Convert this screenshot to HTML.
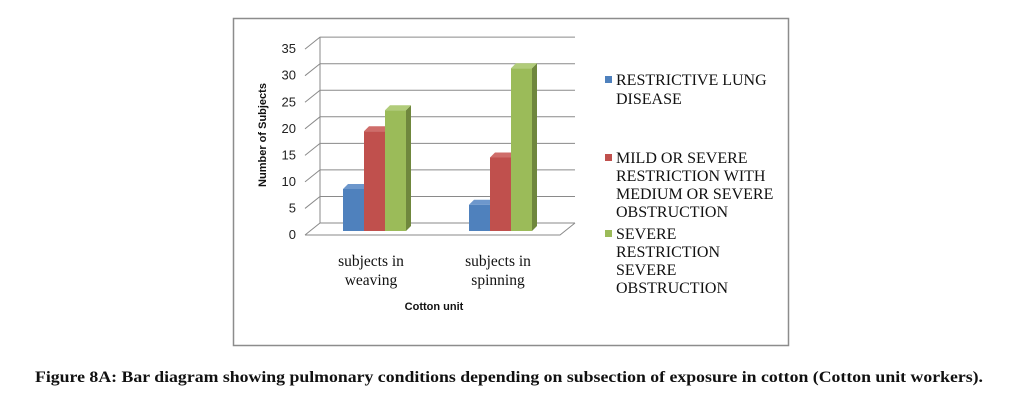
<!DOCTYPE html>
<html><head><meta charset="utf-8"><style>
body{margin:0;background:#fff;width:1011px;height:410px;overflow:hidden}
svg{display:block}
</style></head><body>
<svg width="1011" height="410" viewBox="0 0 1011 410">
<rect x="233.5" y="18.5" width="555" height="327" fill="#fff" stroke="#8c8c8c" stroke-width="1.5"/>
<g id="grid"></g>
<g id="bars"></g>
<g id="ticks" font-family="Liberation Sans, sans-serif" font-size="13" fill="#222" text-anchor="end"></g>
<text transform="translate(266,135) rotate(-90)" text-anchor="middle" font-family="Liberation Sans, sans-serif" font-weight="bold" font-size="11" fill="#111">Number of Subjects</text>
<g font-family="Liberation Serif, serif" font-size="15.5" fill="#111" text-anchor="middle">
<text x="371" y="266">subjects in</text>
<text x="371" y="285">weaving</text>
<text x="498" y="266">subjects in</text>
<text x="498" y="285">spinning</text>
</g>
<text x="434" y="310" text-anchor="middle" font-family="Liberation Sans, sans-serif" font-weight="bold" font-size="11" fill="#111">Cotton unit</text>
<g font-family="Liberation Serif, serif" font-size="16" fill="#111">
<g><rect x="605" y="76" width="7" height="7" fill="#4f81bd"/><text x="616" y="85">RESTRICTIVE LUNG</text><text x="616" y="104">DISEASE</text></g>
<g><rect x="605" y="154" width="7" height="7" fill="#c0504d"/><text x="616" y="163">MILD OR SEVERE</text><text x="616" y="181">RESTRICTION WITH</text><text x="616" y="199">MEDIUM OR SEVERE</text><text x="616" y="217">OBSTRUCTION</text></g>
<g><rect x="605" y="230" width="7" height="7" fill="#9bbb59"/><text x="616" y="239">SEVERE</text><text x="616" y="257">RESTRICTION</text><text x="616" y="275">SEVERE</text><text x="616" y="293">OBSTRUCTION</text></g>
</g>
<text x="35" y="382" textLength="948" lengthAdjust="spacingAndGlyphs" font-family="Liberation Serif, serif" font-weight="bold" font-size="16" fill="#111">Figure 8A: Bar diagram showing pulmonary conditions depending on subsection of exposure in cotton (Cotton unit workers).</text>
</svg>
<script>
const categories=["subjects in weaving","subjects in spinning"];
const restrictive=[8,5];
const mildSevere=[19,14];
const severe=[23,31];
const ticks=[0,5,10,15,20,25,30,35];
const NS="http://www.w3.org/2000/svg";
function mk(tag,attrs,parent){const e=document.createElementNS(NS,tag);for(const k in attrs)e.setAttribute(k,attrs[k]);parent.appendChild(e);return e;}
const backY=v=>223-v*5.31;
const barY=v=>231-v*5.25;
const grid=document.getElementById('grid'),tk=document.getElementById('ticks'),bars=document.getElementById('bars');
ticks.forEach(t=>{
  const y=backY(t);
  const l=mk('polyline',{points:`${305},${y+12} ${320},${y} ${575},${y}`,fill:'none',stroke:'#8a8a8a','stroke-width':1},grid);
  
  
  const tx=mk('text',{x:296,y:y+16},tk);tx.textContent=t;
  
  
});
const fl=mk('polyline',{points:`305,235 560,235 575,223`,fill:'none',stroke:'#8a8a8a','stroke-width':1},grid);


mk('line',{x1:320,y1:backY(35),x2:320,y2:backY(0),stroke:'#8a8a8a'},grid);
const series=[[restrictive,'#4f81bd','#3a6597','#6d97cc','restrictive'],[mildSevere,'#c0504d','#943c3a','#cf6d6a','mild'],[severe,'#9bbb59','#6f873d','#b1cc7a','severe']];
const groupX=[343,469],bw=21,d=5;
categories.forEach((c,i)=>{
  series.forEach((s,j)=>{
    const v=s[0][i],x=groupX[i]+j*bw,y=barY(v),b=231;
    const g=mk('g',{},bars);
    
    
    mk('polygon',{points:`${x+bw},${y} ${x+bw+d},${y-5} ${x+bw+d},${b-5} ${x+bw},${b}`,fill:s[2]},g);
    mk('polygon',{points:`${x},${y} ${x+d},${y-5} ${x+bw+d},${y-5} ${x+bw},${y}`,fill:s[3]},g);
    mk('rect',{x:x,y:y,width:bw,height:b-y,fill:s[1]},g);
  });
});
</script>
</body></html>
